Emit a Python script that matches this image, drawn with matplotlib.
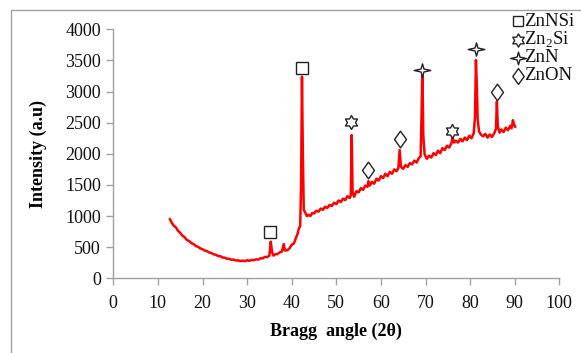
import matplotlib
matplotlib.use("Agg")
import matplotlib.pyplot as plt
from matplotlib.lines import Line2D
from matplotlib.patches import Rectangle
from matplotlib.path import Path
import numpy as np

# ========================================================================
# XRD scan: Bragg angle (2 theta) vs intensity
two_theta = [
    12.7, 13.0, 13.5, 14.0, 14.5, 15.0, 15.5, 16.0, 16.5, 17.0,
    17.5, 18.0, 18.5, 19.0, 19.5, 20.0, 20.5, 21.0, 21.5, 22.0,
    22.5, 23.0, 23.5, 24.0, 24.5, 25.0, 25.5, 26.0, 26.5, 27.0,
    27.5, 28.0, 28.5, 29.0, 29.5, 30.0, 30.5, 31.0, 31.5, 32.0,
    32.5, 33.0, 33.5, 34.0, 34.5, 35.0, 35.3, 35.6, 35.9, 36.3,
    36.8, 37.3, 37.8, 38.2, 38.5, 39.0, 39.5, 40.0, 40.5, 41.0,
    41.3, 41.6, 41.9, 42.1, 42.3, 42.5, 42.7, 43.0, 43.4, 43.8,
    44.2, 44.6, 45.0, 45.5, 46.0, 46.5, 47.0, 47.5, 48.0, 48.5,
    49.0, 49.5, 50.0, 50.5, 51.0, 51.5, 52.0, 52.5, 53.0, 53.25,
    53.45, 53.65, 54.0, 54.5, 55.0, 55.5, 56.0, 56.5, 57.0, 57.2,
    57.5, 58.0, 58.5, 59.0, 59.5, 60.0, 60.5, 61.0, 61.5, 62.0,
    62.5, 63.0, 63.5, 63.9, 64.2, 64.5, 65.0, 65.5, 66.0, 66.5,
    67.0, 67.5, 68.0, 68.5, 68.9, 69.1, 69.3, 69.5, 69.8, 70.3,
    70.8, 71.3, 71.8, 72.3, 72.8, 73.3, 73.8, 74.3, 74.8, 75.3,
    75.8, 76.1, 76.4, 76.8, 77.3, 77.8, 78.3, 78.8, 79.3, 79.8,
    80.3, 80.8, 81.1, 81.3, 81.5, 81.7, 82.0, 82.4, 82.9, 83.4,
    83.9, 84.4, 84.9, 85.4, 85.8, 86.0, 86.2, 86.6, 87.0, 87.5,
    88.0, 88.5, 89.0, 89.3, 89.6, 89.8, 90.1,
]
intensity = [
    948, 905, 850, 820, 765, 730, 685, 660, 615, 600,
    565, 550, 520, 505, 480, 468, 445, 438, 415, 405,
    385, 378, 358, 355, 333, 332, 312, 315, 295, 300,
    285, 288, 276, 285, 274, 290, 280, 295, 290, 305,
    300, 322, 320, 345, 340, 365, 588, 420, 365, 385,
    390, 415, 430, 550, 445, 450, 480, 540, 560, 660,
    710, 800, 840, 1500, 3239, 2000, 1100, 1060, 1000, 1020,
    1000, 1050, 1040, 1085, 1070, 1120, 1100, 1150, 1130, 1180,
    1160, 1215, 1190, 1250, 1225, 1280, 1255, 1320, 1290, 1330,
    2302, 1380, 1310, 1400, 1380, 1450, 1420, 1490, 1470, 1560,
    1490, 1550, 1520, 1600, 1570, 1640, 1610, 1680, 1640, 1710,
    1680, 1750, 1720, 1770, 2061, 1790, 1760, 1820, 1790, 1850,
    1830, 1890, 1860, 1930, 1960, 2600, 3346, 2300, 1990, 1920,
    1970, 1940, 2010, 1980, 2050, 2010, 2090, 2060, 2130, 2100,
    2170, 2260, 2180, 2210, 2180, 2240, 2200, 2260, 2220, 2290,
    2250, 2330, 2600, 3507, 3100, 2550, 2360, 2310, 2280, 2320,
    2260, 2310, 2270, 2330, 2400, 2837, 2450, 2340, 2390, 2350,
    2420, 2380, 2450, 2410, 2540, 2480, 2435,
]

# phase markers placed above the peaks
phase_names = ["ZnNSi", "Zn$_2$Si", "ZnN", "ZnON"]
znnsi_pos = [(35.2, 744), (42.2, 3383)]
zn2si_pos = [(53.2, 2511), (76.0, 2366)]
znn_pos = [(69.1, 3346), (81.3, 3683)]
znon_pos = [(57.2, 1740), (64.3, 2233), (86.0, 2988)]

# ========================================================================
plt.rcParams["font.family"] = "Liberation Serif"
plt.rcParams["mathtext.fontset"] = "custom"
plt.rcParams["mathtext.rm"] = "Liberation Serif"

grey = "#a0a0a0"
hexagram = Path.unit_regular_star(6, 0.58)
four_star = Path(np.array([[0, 1], [0.22, 0.22], [1.25, 0], [0.22, -0.22],
                           [0, -1], [-0.22, -0.22], [-1.25, 0], [-0.22, 0.22],
                           [0, 1]]), closed=True)
thin_diamond = Path(np.array([[0, 1], [0.72, 0], [0, -1], [-0.72, 0], [0, 1]]),
                    closed=True)
markers = [("s", 8), (hexagram, 10), (four_star, 12), (thin_diamond, 12)]
positions = [znnsi_pos, zn2si_pos, znn_pos, znon_pos]

fig = plt.figure(figsize=(5.81, 3.53), dpi=100)
fig.add_artist(Rectangle((11 / 581, -0.1), 1.2, 1.1 - 10 / 353, fill=False,
                         edgecolor=grey, linewidth=1.0,
                         transform=fig.transFigure))

ax = fig.add_axes([0.195, 0.2116, 0.7677, 0.7054])
ax.plot(two_theta, intensity, color="#ff0000", linewidth=1.8)

for (m, ms), pts in zip(markers, positions):
    xs = [p[0] for p in pts]
    ys = [p[1] for p in pts]
    ax.plot(xs, ys, linestyle="none", marker=m, markersize=ms,
            markerfacecolor="white", markeredgecolor="#222222",
            markeredgewidth=1.0, clip_on=False, zorder=3)

ax.set_xlim(0, 100)
ax.set_ylim(0, 4000)
ax.set_xticks(np.arange(0, 101, 10))
ax.set_yticks(np.arange(0, 4001, 500))
for s in ["top", "right"]:
    ax.spines[s].set_visible(False)
for s in ["left", "bottom"]:
    ax.spines[s].set_color(grey)
    ax.spines[s].set_linewidth(1.0)
ax.tick_params(direction="out", length=5, width=1.0, color=grey,
               labelsize=13, labelcolor="#111111")
ax.tick_params(axis="x", pad=7)
ax.tick_params(axis="y", pad=4)

ax.set_xlabel("Bragg  angle (2θ)", fontsize=13, fontweight="bold")
ax.set_ylabel("Intensity (a.u)", fontsize=13, fontweight="bold")
ax.xaxis.set_label_coords(0.5, -0.18)
ax.yaxis.set_label_coords(-0.148, 0.5)

# legend drawn by hand in the top right corner
leg_y = [21, 40, 58, 76]
for (m, ms), name, y in zip(markers, phase_names, leg_y):
    fy = 1 - y / 353
    fig.add_artist(Line2D([517.5 / 581], [fy], marker=m, markersize=ms * 0.95,
                          markerfacecolor="white", markeredgecolor="#222222",
                          markeredgewidth=1.0, linestyle="none",
                          transform=fig.transFigure))
    fig.text(524 / 581, fy, name, fontsize=13.5, va="center", ha="left",
             color="#111111")

fig.savefig("out.png", dpi=100)
